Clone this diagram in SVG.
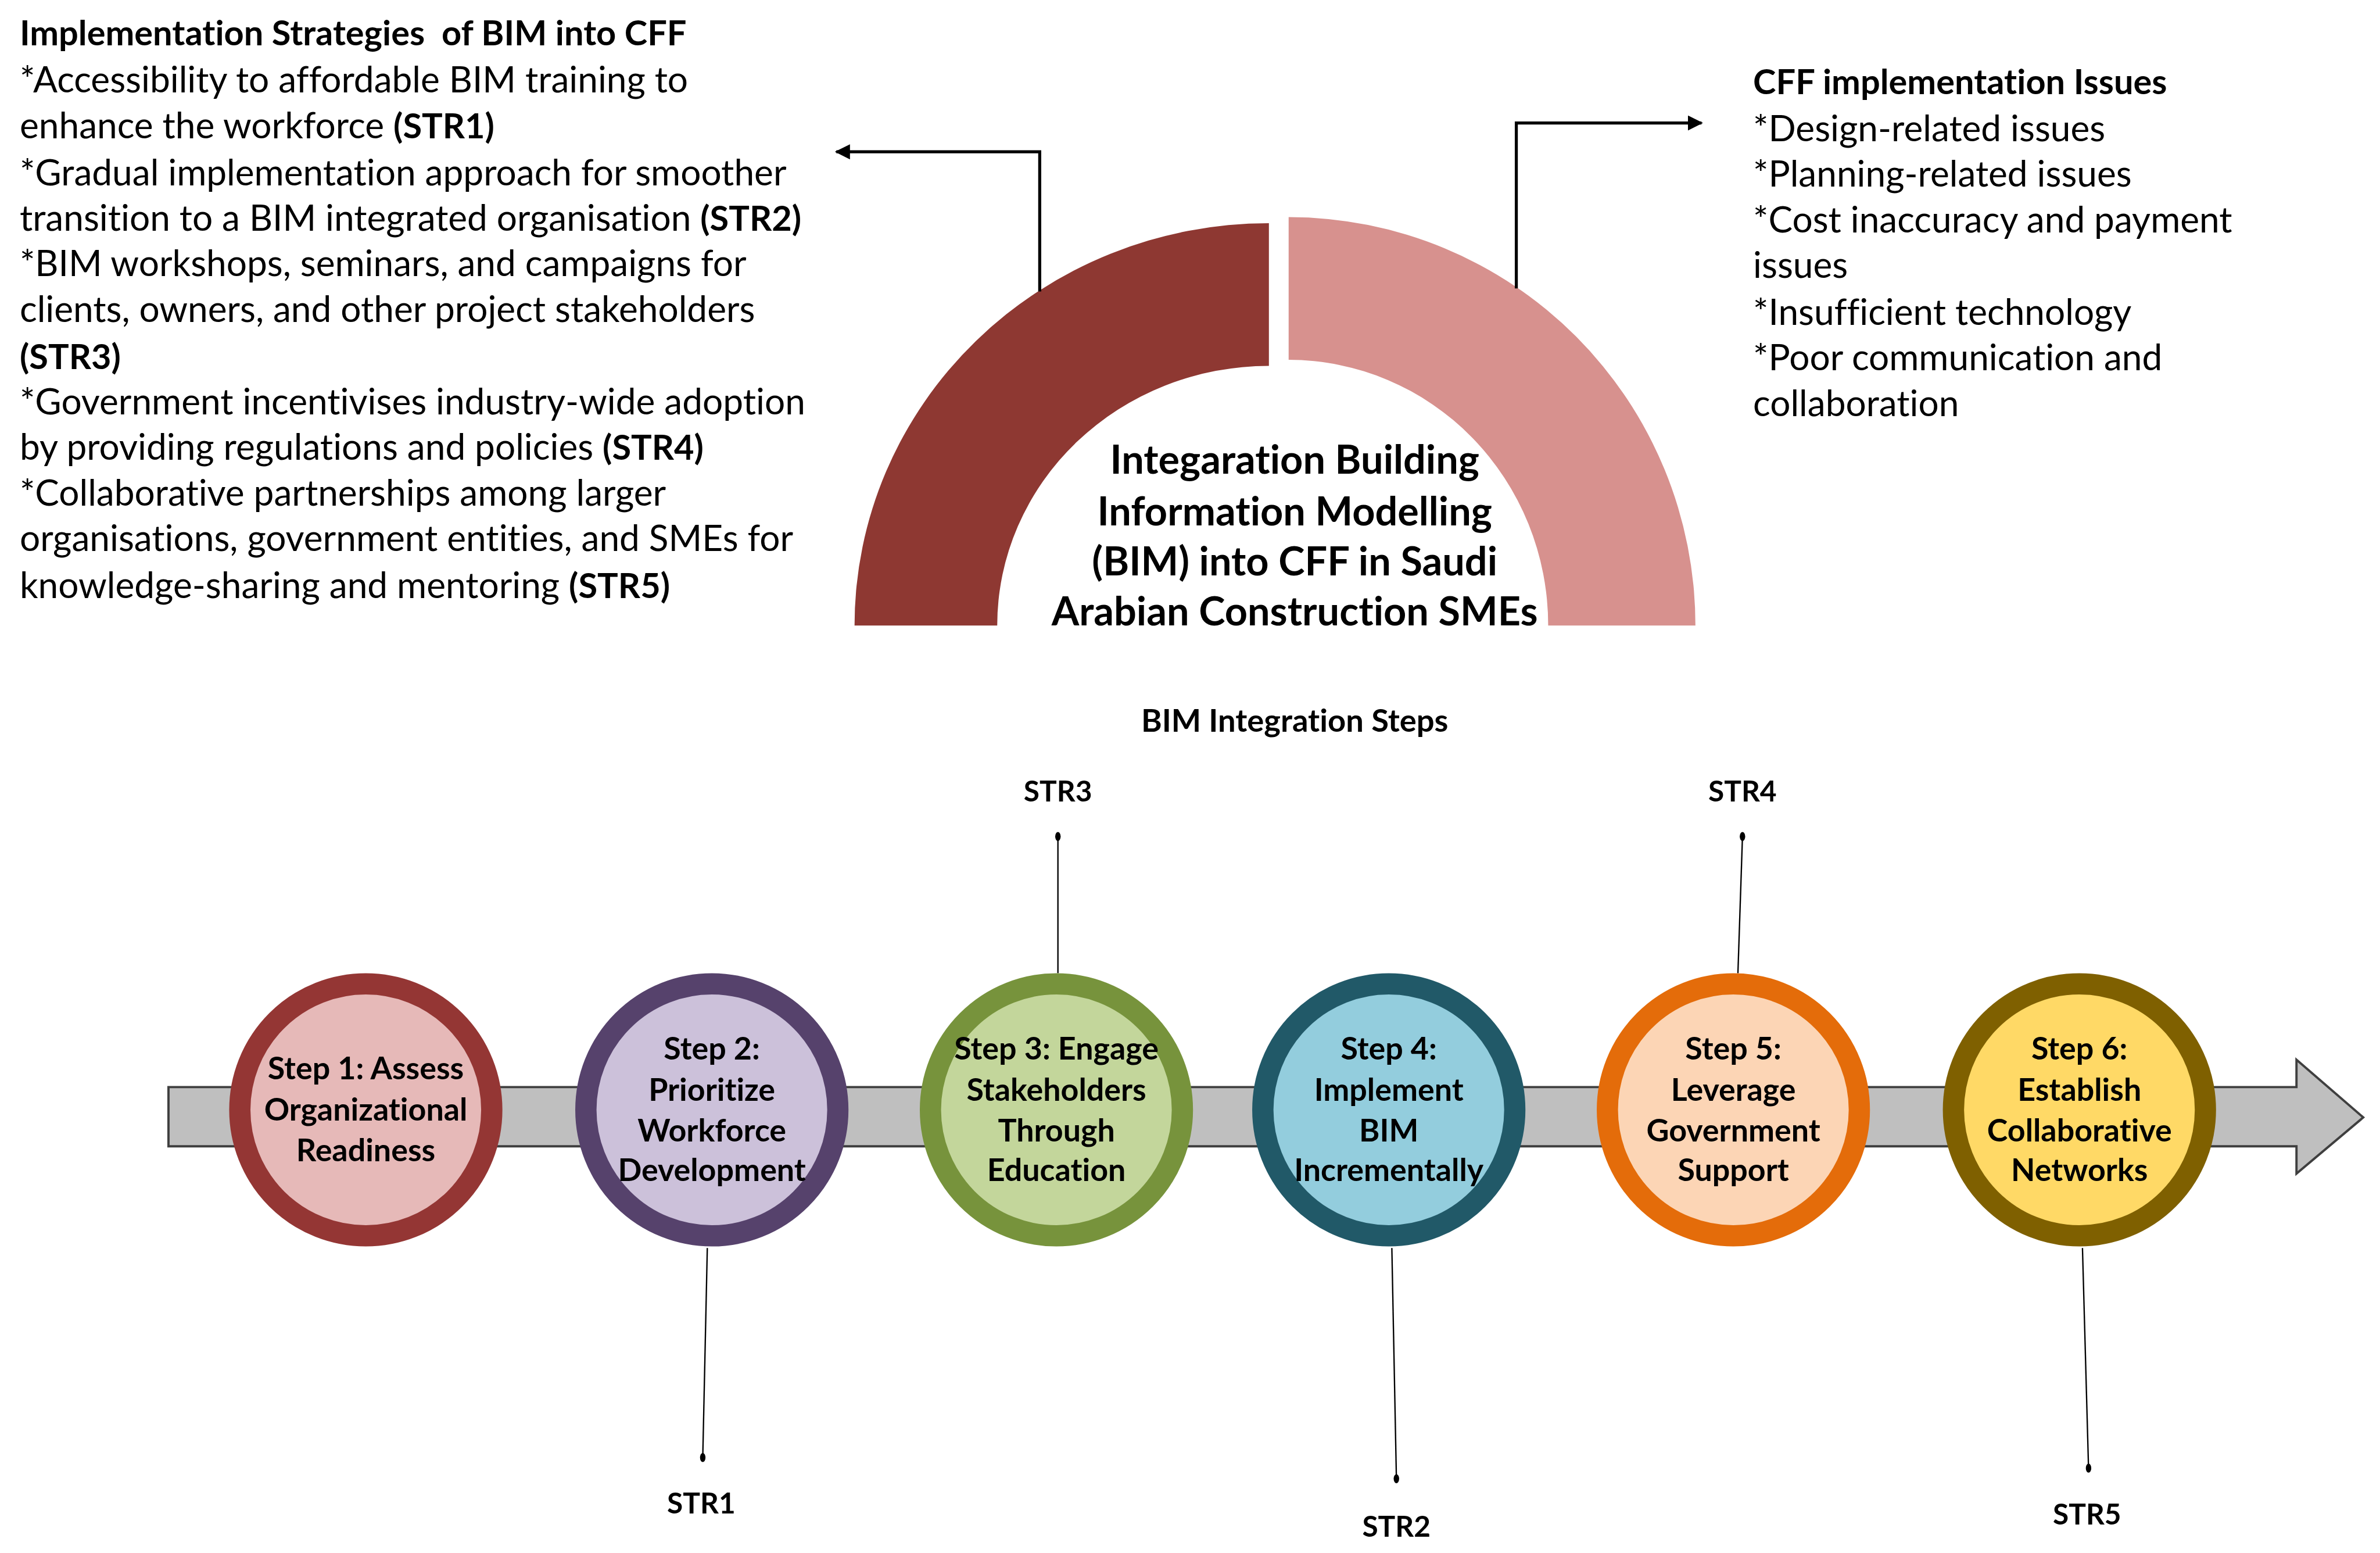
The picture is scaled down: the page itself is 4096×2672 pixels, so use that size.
<svg xmlns="http://www.w3.org/2000/svg" width="4096" height="2672" viewBox="0 0 4096 2672">
<style>
.t{font-family:Lato,"Liberation Sans",sans-serif;fill:#000;font-variant-ligatures:none;white-space:pre}
.body{font-size:23.8px}
.b{font-weight:bold}
.bs{font-weight:bold;font-size:22.8px}
.ttl{font-size:26.2px;font-weight:bold}
.step{font-size:20.6px;font-weight:bold}
.lbl{font-size:19px;font-weight:bold}
.sub{font-size:20.8px;font-weight:bold}
.ring{stroke-width:14}
.lead{stroke:#000;stroke-width:0.9;fill:none}
.conn{stroke:#000;stroke-width:2;fill:none}
</style>
<defs>
<marker id="ah" viewBox="0 0 10 10" refX="9" refY="5" markerWidth="5" markerHeight="5" orient="auto" markerUnits="strokeWidth">
<path d="M0,0 L10,5 L0,10 Z" fill="#000"/>
</marker>
</defs>
<rect width="4096" height="2672" fill="#fff"/>
<g transform="scale(2.6122)">
<g id="strategies" class="t body">
<text x="13" y="30" class="bs" xml:space="preserve">Implementation Strategies  of BIM into CFF</text>
<text x="13" y="61">*Accessibility to affordable BIM training to</text>
<text x="13" y="91">enhance the workforce <tspan class="bs">(STR1)</tspan></text>
<text x="13" y="122">*Gradual implementation approach for smoother</text>
<text x="13" y="152">transition to a BIM integrated organisation <tspan class="bs">(STR2)</tspan></text>
<text x="13" y="182">*BIM workshops, seminars, and campaigns for</text>
<text x="13" y="212">clients, owners, and other project stakeholders</text>
<text x="13" y="243" class="bs">(STR3)</text>
<text x="13" y="273">*Government incentivises industry-wide adoption</text>
<text x="13" y="303">by providing regulations and policies <tspan class="bs">(STR4)</tspan></text>
<text x="13" y="333">*Collaborative partnerships among larger</text>
<text x="13" y="363">organisations, government entities, and SMEs for</text>
<text x="13" y="394">knowledge-sharing and mentoring <tspan class="bs">(STR5)</tspan></text>
</g>
<g id="issues" class="t body">
<text x="1155" y="62" class="bs">CFF implementation Issues</text>
<text x="1155" y="93">*Design-related issues</text>
<text x="1155" y="123">*Planning-related issues</text>
<text x="1155" y="153">*Cost inaccuracy and payment</text>
<text x="1155" y="183">issues</text>
<text x="1155" y="214">*Insufficient technology</text>
<text x="1155" y="244">*Poor communication and</text>
<text x="1155" y="274">collaboration</text>
</g>
<g id="arch">
<path d="M563,412 A273,265 0 0 1 836,147 L836,241 A179,171 0 0 0 657,412 Z" fill="#8E3832"/>
<path d="M849,143 A268,269 0 0 1 1117,412 L1020,412 A171,175 0 0 0 849,237 Z" fill="#D7918E"/>
<g class="t ttl" text-anchor="middle">
<text x="853" y="312">Integaration Building</text>
<text x="853" y="346">Information Modelling</text>
<text x="853" y="379">(BIM) into CFF in Saudi</text>
<text x="853" y="412">Arabian Construction SMEs</text>
</g>
</g>
<g id="connectors">
<path class="conn" d="M685,192 V100 H551" marker-end="url(#ah)"/>
<path class="conn" d="M999,190 V81 H1121" marker-end="url(#ah)"/>
<g class="lead">
<path d="M697,641 L697,551"/>
<path d="M1145,641 L1148,551"/>
<path d="M466,822 L463,960"/>
<path d="M917,822 L920,974"/>
<path d="M1372,822 L1376,967"/>
</g>
<g fill="#000">
<ellipse cx="697" cy="551" rx="1.8" ry="3"/>
<ellipse cx="1148" cy="551" rx="1.8" ry="3"/>
<ellipse cx="463" cy="960" rx="1.8" ry="3"/>
<ellipse cx="920" cy="974" rx="1.8" ry="3"/>
<ellipse cx="1376" cy="967" rx="1.8" ry="3"/>
</g>
</g>
<text class="t sub" x="853" y="482" text-anchor="middle">BIM Integration Steps</text>
<g id="timeline">
<path d="M111,716 H1513 V698 L1557,736 L1513,773 V755 H111 Z" fill="#BFBFBF" stroke="#3F3F3F" stroke-width="1.5"/>
</g>
<g id="step1"><circle cx="241" cy="731" r="83" class="ring" fill="#E6B9B8" stroke="#943634"/>
<g class="t step" text-anchor="middle"><text x="241" y="711">Step 1: Assess</text><text x="241" y="738">Organizational</text><text x="241" y="765">Readiness</text></g></g>
<g id="step2"><circle cx="469" cy="731" r="83" class="ring" fill="#CCC1DA" stroke="#56426C"/>
<g class="t step" text-anchor="middle"><text x="469" y="698">Step 2:</text><text x="469" y="725">Prioritize</text><text x="469" y="752">Workforce</text><text x="469" y="778">Development</text></g></g>
<g id="step3"><circle cx="696" cy="731" r="83" class="ring" fill="#C3D69B" stroke="#77933C"/>
<g class="t step" text-anchor="middle"><text x="696" y="698">Step 3: Engage</text><text x="696" y="725">Stakeholders</text><text x="696" y="752">Through</text><text x="696" y="778">Education</text></g></g>
<g id="step4"><circle cx="915" cy="731" r="83" class="ring" fill="#93CDDD" stroke="#215968"/>
<g class="t step" text-anchor="middle"><text x="915" y="698">Step 4:</text><text x="915" y="725">Implement</text><text x="915" y="752">BIM</text><text x="915" y="778">Incrementally</text></g></g>
<g id="step5"><circle cx="1142" cy="731" r="83" class="ring" fill="#FCD5B5" stroke="#E46C0A"/>
<g class="t step" text-anchor="middle"><text x="1142" y="698">Step 5:</text><text x="1142" y="725">Leverage</text><text x="1142" y="752">Government</text><text x="1142" y="778">Support</text></g></g>
<g id="step6"><circle cx="1370" cy="731" r="83" class="ring" fill="#FFD966" stroke="#7F6000"/>
<g class="t step" text-anchor="middle"><text x="1370" y="698">Step 6:</text><text x="1370" y="725">Establish</text><text x="1370" y="752">Collaborative</text><text x="1370" y="778">Networks</text></g></g>
<g id="labels" class="t lbl" text-anchor="middle">
<text x="697" y="528">STR3</text>
<text x="1148" y="528">STR4</text>
<text x="462" y="997">STR1</text>
<text x="920" y="1012">STR2</text>
<text x="1375" y="1004">STR5</text>
</g>
</g>
</svg>
